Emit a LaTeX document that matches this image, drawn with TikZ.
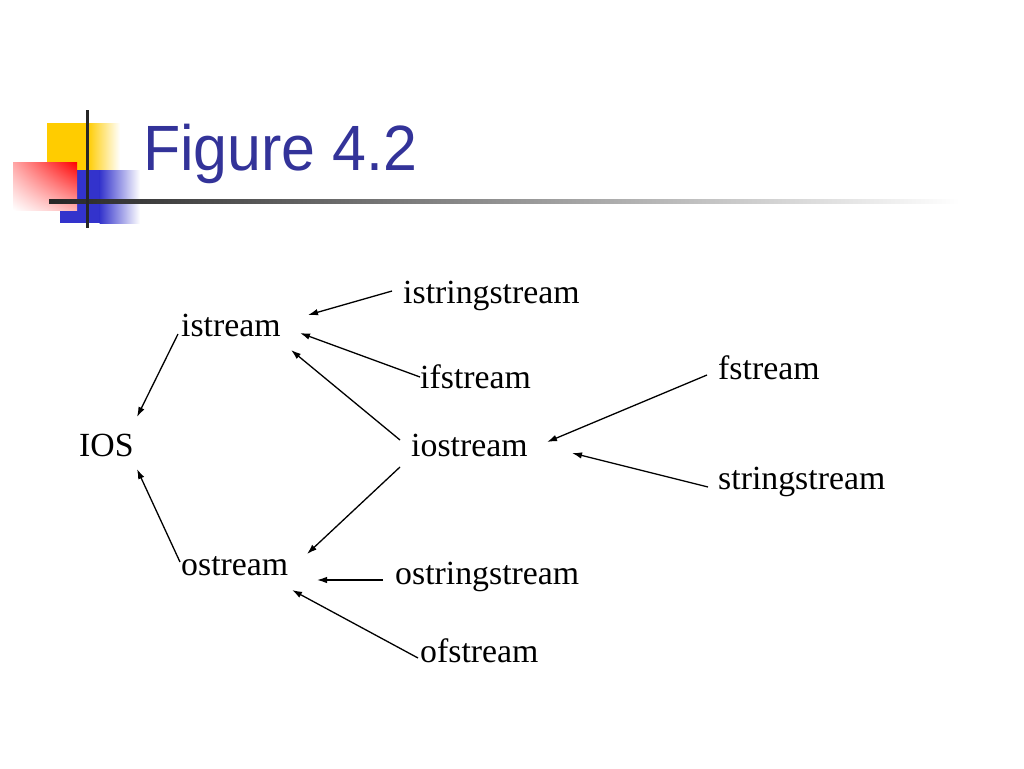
\documentclass[tikz,border=0pt]{standalone}
\usepackage{fontspec}
\setmainfont{Liberation Serif}
\newfontfamily\titlefont{Liberation Sans}
\usetikzlibrary{arrows.meta,calc,shadings}
\definecolor{titleblue}{HTML}{333399}
\definecolor{logoyellow}{HTML}{FFCC00}
\definecolor{logoblue}{HTML}{3333CC}
\tikzset{
  lbl/.style={anchor=base west,inner sep=0pt,font=\fontsize{33.8}{40}\selectfont},
  arr/.style={line width=1.3pt,-{Latex[length=10pt,width=6.5pt]}}
}
\begin{document}
\begin{tikzpicture}[x=1pt,y=-1pt]
\useasboundingbox[fill=white] (0,0) rectangle (1024,768);
% logo
\fill[logoyellow] (47,123) rectangle (88,185);
\shade[left color=logoyellow,right color=white] (87.5,123) rectangle (120,185);
\fill[logoblue] (60,170) rectangle (100,223);
\shade[left color=logoblue,right color=white] (99.5,170) rectangle (140,223);
\shade[upper left=red!35!white,upper right=red,lower left=white,lower right=red!30!white] (13,162) rectangle (77,210);
\shade[left color=black!85,right color=white] (49,199) rectangle (960,203);
\fill[black!85] (85.5,110) rectangle (88.5,228);
% title
\node[anchor=base west,inner sep=0pt,text=titleblue,font=\titlefont\fontsize{64}{70}\selectfont] (title) at (143,170) {\scalebox{0.952}[1]{Figure 4.2}};
% nodes
\node[lbl] (istring) at (403,303) {istringstream};
\node[lbl] (istream) at (181,336) {istream};
\node[lbl] (ifstream) at (420,388) {ifstream};
\node[lbl] (fstream) at (718,379) {fstream};
\node[lbl] (ios) at (79,456) {IOS};
\node[lbl] (iostream) at (411,456) {iostream};
\node[lbl] (sstream) at (718,489) {stringstream};
\node[lbl] (ostream) at (181,575) {ostream};
\node[lbl] (ostring) at (395,584) {ostringstream};
\node[lbl] (ofstream) at (420,662) {ofstream};
% connectors
\draw[arr] ($(istring.base west)+(-11,-12)$) -- ($(istream.base west)+(127,-21)$);
\draw[arr] ($(ifstream.base west)+(0,-11)$) -- ($(istream.base west)+(119,-3)$);
\draw[arr] ($(iostream.base west)+(-11,-16)$) -- ($(istream.base west)+(110,14)$);
\draw[arr] ($(istream.base west)+(-3,-2)$) -- ($(ios.base west)+(58,-39)$);
\draw[arr] ($(ostream.base west)+(-1,-13)$) -- ($(ios.base west)+(58,13)$);
\draw[arr] ($(iostream.base west)+(-11,11)$) -- ($(ostream.base west)+(126,-21)$);
\draw[arr] ($(fstream.base west)+(-11,-4)$) -- ($(iostream.base west)+(136,-14)$);
\draw[arr] ($(sstream.base west)+(-10,-2)$) -- ($(iostream.base west)+(161,-3)$);
\draw[arr] ($(ostring.base west)+(-12,-4)$) -- ($(ostream.base west)+(136,5)$);
\draw[arr] ($(ofstream.base west)+(-2,-4)$) -- ($(ostream.base west)+(111,15)$);
\end{tikzpicture}
\end{document}
